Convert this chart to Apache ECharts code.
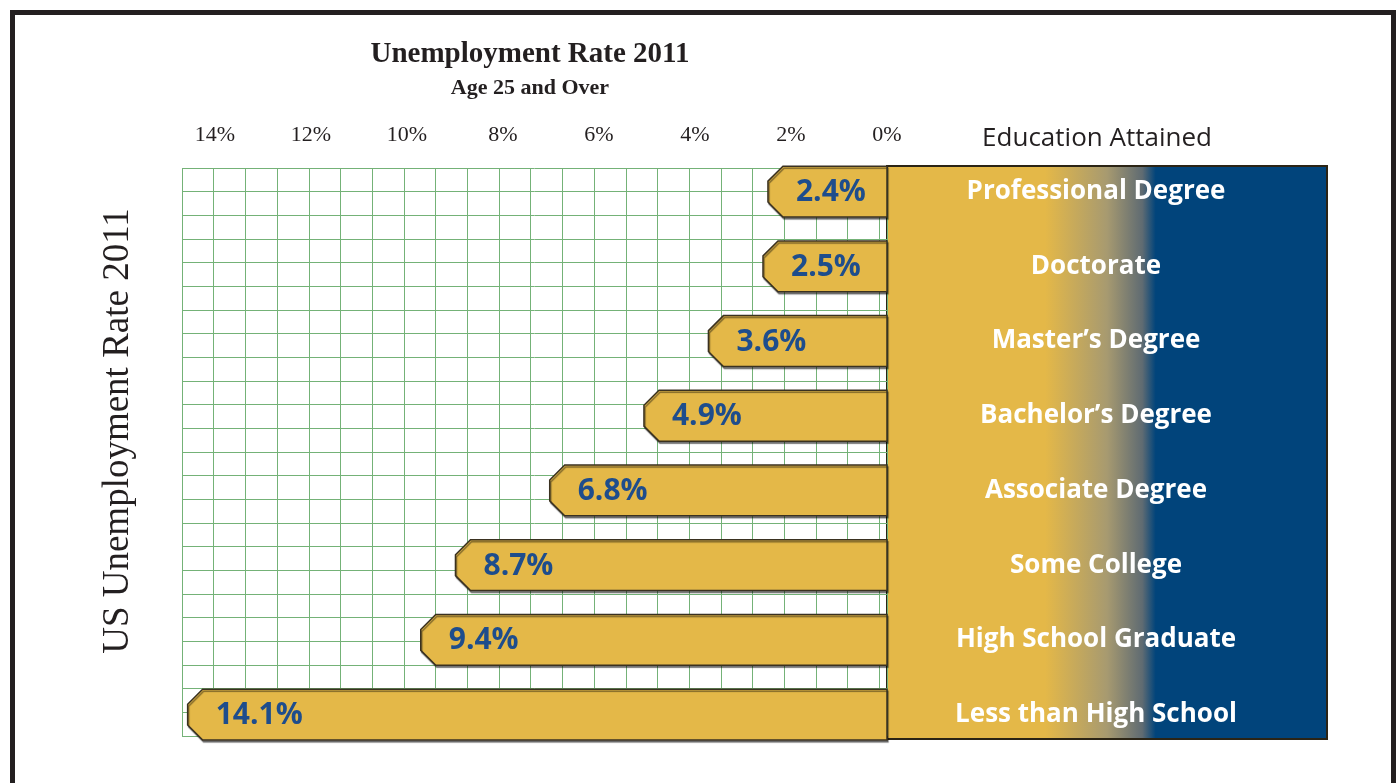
<!DOCTYPE html>
<html>
<head>
<meta charset="utf-8">
<title>Unemployment Rate 2011</title>
<script src="https://cdn.jsdelivr.net/npm/echarts@6/dist/echarts.min.js"></script>
<style>
  html, body { margin: 0; padding: 0; background: #fff; }
  #chart { width: 1397px; height: 783px; }
</style>
</head>
<body>
<div id="chart"></div>
<script>
const categories = [
  'Professional Degree',
  'Doctorate',
  'Master\u2019s Degree',
  'Bachelor\u2019s Degree',
  'Associate Degree',
  'Some College',
  'High School Graduate',
  'Less than High School'
];
const rates = [2.4, 2.5, 3.6, 4.9, 6.8, 8.7, 9.4, 14.1];

const ink = '#231F20';
const gold = '#E4B848';
const navy = '#01447B';
const green = '#74B277';
const serif = '"Liberation Serif", "Times New Roman", serif';
const sans = '"Open Sans", "Noto Sans", sans-serif';

const chart = echarts.init(document.getElementById('chart'), null, { renderer: 'canvas' });

// two grids: the green graph paper and the bars on top of it
const paper = { left: 182, top: 168, width: 705, height: 568 };
const bars = { left: 182, top: 154.2, width: 705, height: 597.8 };

const option = {
  animation: false,
  title: [
    {
      text: 'Unemployment Rate 2011',
      subtext: 'Age 25 and Over',
      left: 530,
      top: 40,
      padding: 0,
      itemGap: 8,
      textAlign: 'center',
      textStyle: { fontFamily: serif, fontWeight: 'bold', fontSize: 29, color: ink },
      subtextStyle: { fontFamily: serif, fontWeight: 'bold', fontSize: 22, color: ink }
    },
    {
      text: 'Education Attained',
      left: 1097,
      top: 126,
      padding: 0,
      textAlign: 'center',
      textStyle: { fontFamily: sans, fontWeight: 'normal', fontSize: 26, color: ink }
    }
  ],
  graphic: [
    {
      type: 'rect',
      z: -5,
      shape: { x: 12.5, y: 12.5, width: 1381, height: 820 },
      style: { fill: 'none', stroke: ink, lineWidth: 5 }
    },
    {
      type: 'rect',
      z: -1,
      shape: { x: 887, y: 166, width: 440, height: 573 },
      style: {
        fill: new echarts.graphic.LinearGradient(0, 0, 1, 0, [
          { offset: 0, color: gold },
          { offset: 0.36, color: gold },
          { offset: 0.5, color: '#A79A70' },
          { offset: 0.58, color: '#5F6B72' },
          { offset: 0.61, color: navy },
          { offset: 1, color: navy }
        ]),
        stroke: '#2B2415',
        lineWidth: 2
      }
    },
    {
      type: 'text',
      x: 118,
      y: 431,
      rotation: Math.PI / 2,
      style: {
        text: 'US Unemployment Rate 2011',
        fontFamily: serif,
        fontSize: 37,
        fill: ink,
        align: 'center',
        verticalAlign: 'middle'
      }
    }
  ],
  grid: [paper, bars],
  xAxis: [
    {
      gridIndex: 0,
      type: 'value',
      min: 0,
      max: 705 / 31.7,
      interval: 1,
      axisLine: { show: false },
      axisTick: { show: false },
      axisLabel: { show: false },
      splitLine: { show: true, lineStyle: { color: green, width: 1 } }
    },
    {
      // scale the bars are drawn on
      gridIndex: 1,
      type: 'value',
      inverse: true,
      min: 0,
      max: 705 / 49.6,
      show: false
    },
    {
      // printed percent scale across the top
      gridIndex: 1,
      type: 'value',
      inverse: true,
      position: 'top',
      min: 0,
      max: 705 / 48,
      interval: 2,
      axisLine: { show: false },
      axisTick: { show: false },
      splitLine: { show: false },
      axisLabel: {
        margin: 8,
        fontFamily: serif,
        fontSize: 22,
        color: ink,
        formatter: (v) => (v % 2 === 0 ? v + '%' : '')
      }
    }
  ],
  yAxis: [
    {
      gridIndex: 0,
      type: 'value',
      min: 0,
      max: 24,
      interval: 1,
      axisLine: { show: false },
      axisTick: { show: false },
      axisLabel: { show: false },
      splitLine: { show: true, lineStyle: { color: green, width: 1 } }
    },
    {
      gridIndex: 1,
      type: 'category',
      data: categories,
      inverse: true,
      position: 'right',
      axisLine: { show: false },
      axisTick: { show: false },
      splitLine: { show: false },
      axisLabel: {
        margin: 209,
        align: 'center',
        color: '#fff',
        fontFamily: sans,
        fontWeight: 'bold',
        fontSize: 26
      }
    }
  ],
  series: [
    {
      type: 'custom',
      xAxisIndex: 1,
      yAxisIndex: 1,
      z: 3,
      data: rates.map((v, i) => [v, i]),
      encode: { x: 0, y: 1 },
      renderItem: (params, api) => {
        const val = api.value(0);
        const idx = api.value(1);
        const tip = api.coord([val, idx]);
        const base = api.coord([0, idx]);
        const h = api.size([0, 1])[1] * 0.68;
        const top = tip[1] - h / 2;
        const bot = tip[1] + h / 2;
        const c = 15; // chamfer on the left end
        return {
          type: 'group',
          children: [
            {
              type: 'polygon',
              shape: {
                points: [
                  [base[0], top],
                  [tip[0] + c, top],
                  [tip[0], top + c],
                  [tip[0], bot - c],
                  [tip[0] + c, bot],
                  [base[0], bot]
                ]
              },
              style: {
                fill: gold,
                stroke: '#3A3120',
                lineWidth: 1.5,
                shadowColor: 'rgba(0,0,0,0.45)',
                shadowOffsetX: 1,
                shadowOffsetY: 2,
                shadowBlur: 1
              }
            },
            {
              type: 'text',
              style: {
                x: tip[0] + 28,
                y: tip[1] + 1,
                text: val.toFixed(1) + '%',
                fill: '#1E4D8C',
                fontFamily: sans,
                fontWeight: 'bold',
                fontSize: 30,
                align: 'left',
                verticalAlign: 'middle'
              }
            }
          ]
        };
      }
    }
  ]
};

chart.setOption(option);
window.addEventListener('resize', () => chart.resize());
</script>
</body>
</html>
